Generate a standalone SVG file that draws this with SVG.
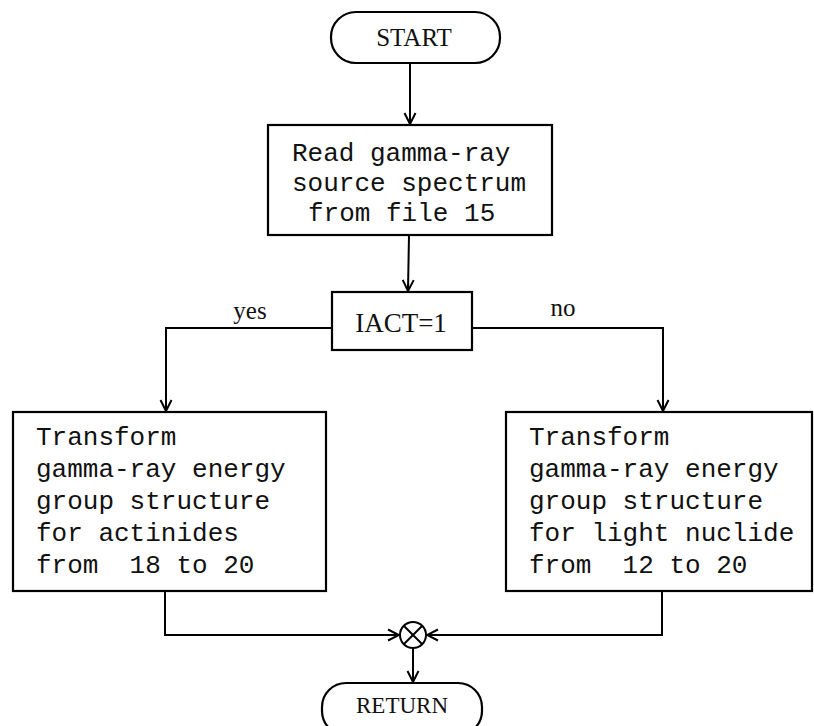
<svg xmlns="http://www.w3.org/2000/svg" width="814" height="726" viewBox="0 0 814 726">
<defs>
<style>
.box{fill:#fff;stroke:#000;stroke-width:2.2}
.ln{fill:none;stroke:#000;stroke-width:2}
.mono{font-family:"Liberation Mono","Courier New",monospace;font-size:26px;fill:#111;white-space:pre}
.serif{font-family:"Liberation Serif","Times New Roman",serif;fill:#111}
</style>
<marker id="arr" markerWidth="14" markerHeight="14" refX="12" refY="7" orient="auto" markerUnits="userSpaceOnUse">
<path d="M1,1.5 L12,7 L1,12.5 M5,7 L12,7" fill="none" stroke="#000" stroke-width="2"/>
</marker>
</defs>
<rect width="814" height="726" fill="#fff"/>
<g id="connectors">
<line class="ln" x1="410" y1="63" x2="410" y2="124" marker-end="url(#arr)"/>
<line class="ln" x1="409" y1="235" x2="408" y2="291" marker-end="url(#arr)"/>
<polyline class="ln" points="332,328 166,328 166,411" marker-end="url(#arr)"/>
<polyline class="ln" points="472,328 663,328 663,411" marker-end="url(#arr)"/>
<polyline class="ln" points="165,591 165,635 399,635" marker-end="url(#arr)"/>
<polyline class="ln" points="662,591 662,635 427,635" marker-end="url(#arr)"/>
<line class="ln" x1="413" y1="648" x2="413" y2="682" marker-end="url(#arr)"/>
<text class="serif" x="250" y="319" font-size="25" text-anchor="middle">yes</text>
<text class="serif" x="563" y="316" font-size="25" text-anchor="middle">no</text>
</g>
<g id="start">
<rect class="box" x="331" y="12" width="169" height="51" rx="25" ry="25"/>
<text class="serif" x="414" y="46" font-size="25" text-anchor="middle">START</text>
</g>
<g id="read">
<rect class="box" x="268" y="125" width="284" height="110"/>
<text class="mono" x="292" y="161">Read gamma-ray</text>
<text class="mono" x="292" y="191">source spectrum</text>
<text class="mono" x="308" y="221">from file 15</text>
</g>
<g id="iact">
<rect class="box" x="332" y="292" width="140" height="58"/>
<text class="serif" x="401" y="332" font-size="27" text-anchor="middle">IACT=1</text>
</g>
<g id="actinides">
<rect class="box" x="13" y="412" width="313" height="179"/>
<text class="mono" x="36" y="445">Transform</text>
<text class="mono" x="36" y="477">gamma-ray energy</text>
<text class="mono" x="36" y="509">group structure</text>
<text class="mono" x="36" y="541">for actinides</text>
<text class="mono" x="36" y="573" xml:space="preserve">from  18 to 20</text>
</g>
<g id="light">
<rect class="box" x="506" y="412" width="306" height="179"/>
<text class="mono" x="529" y="445">Transform</text>
<text class="mono" x="529" y="477">gamma-ray energy</text>
<text class="mono" x="529" y="509">group structure</text>
<text class="mono" x="529" y="541">for light nuclide</text>
<text class="mono" x="529" y="573" xml:space="preserve">from  12 to 20</text>
</g>
<g id="merge">
<circle class="ln" cx="413" cy="635" r="13"/>
<line class="ln" x1="404" y1="626" x2="422" y2="644"/>
<line class="ln" x1="422" y1="626" x2="404" y2="644"/>
</g>
<g id="return">
<rect class="box" x="322" y="683" width="160" height="52" rx="24" ry="24"/>
<text class="serif" x="402" y="713" font-size="23" text-anchor="middle">RETURN</text>
</g>
</svg>
